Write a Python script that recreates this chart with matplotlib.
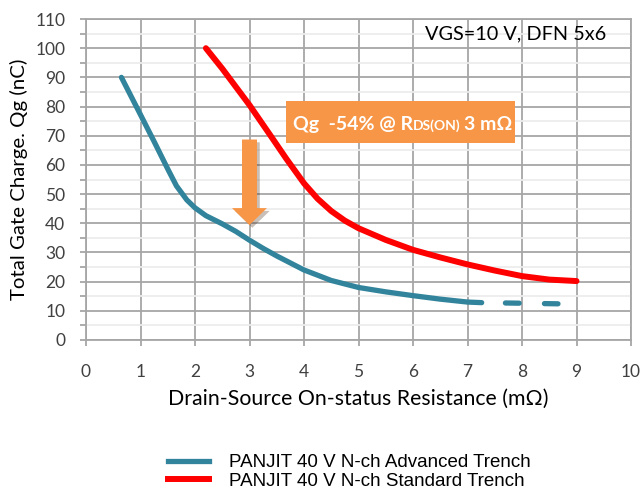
import matplotlib
matplotlib.use("Agg")
import matplotlib.pyplot as plt
from matplotlib.patches import FancyArrow, Rectangle
import matplotlib.patheffects as pe
from matplotlib.lines import Line2D
from matplotlib.ticker import MultipleLocator

plt.rcParams["lines.scale_dashes"] = False

# ---- data ----
adv_x = [0.65, 1.0, 1.25, 1.5, 1.66, 1.85, 2.0, 2.2, 2.5, 2.75, 3.0, 3.25, 3.5,
         4.0, 4.5, 5.0, 5.5, 6.0, 6.5, 7.0, 7.26]
adv_y = [90, 77.2, 68, 58.6, 52.8, 48.0, 45.3, 42.6, 39.8, 37.2, 34.2, 31.4, 28.8,
         24.0, 20.4, 18.0, 16.5, 15.2, 14.0, 13.0, 12.8]
adv_ext_x = [7.26, 8.0, 8.66]
adv_ext_y = [12.8, 12.6, 12.4]
std_x = [2.2, 2.5, 3.0, 3.38, 3.68, 4.0, 4.25, 4.5, 4.75, 5.0, 5.5, 6.0, 6.5, 7.0,
         7.5, 8.0, 8.5, 9.0]
std_y = [100, 93.0, 80.5, 70.2, 62.0, 53.7, 48.4, 44.2, 40.9, 38.3, 34.3, 30.9,
         28.3, 25.9, 23.8, 21.9, 20.7, 20.2]

x_ticks = list(range(0, 11))
y_ticks = list(range(0, 111, 10))

BLUE = "#31849B"
RED = "#FF0000"
ORANGE = "#F79646"
GRID = "#A6A6A6"
MINOR = "#EDEDED"
TEXTC = "#404040"

fig = plt.figure(figsize=(6.42, 4.90), dpi=100)
ax = fig.add_axes([86/642, 1-340/490, (631-86)/642, (340-19)/490])

ax.set_xlim(0, 10)
ax.set_ylim(0, 110)
ax.set_xticks(x_ticks)
ax.set_yticks(y_ticks)
ax.yaxis.set_minor_locator(MultipleLocator(5))
ax.grid(which="major", color=GRID, linewidth=1.3, zorder=0)
ax.grid(which="minor", axis="y", color=MINOR, linewidth=1.3, zorder=0)
for s in ax.spines.values():
    s.set_color(GRID)
    s.set_linewidth(1.3)
ax.tick_params(which="both", color=GRID, width=1.3, length=4, labelcolor=TEXTC,
               labelsize=12.5)
ax.tick_params(axis="x", which="both", pad=13)
ax.tick_params(axis="y", which="both", pad=11)
ax.tick_params(axis="x", which="minor", length=0)
for lab in ax.get_xticklabels() + ax.get_yticklabels():
    lab.set_family("Lato")

ax.set_xlabel("Drain-Source On-status Resistance (m\u03a9)", fontsize=15.3,
              family="Lato", color="black", labelpad=7)
ax.set_ylabel("Total Gate Charge. Qg (nC)", fontsize=14.7, family="Lato",
              color="black", labelpad=5)

ax.plot(adv_x, adv_y, color=BLUE, lw=3.8, solid_capstyle="round",
        solid_joinstyle="round", zorder=3)
ax.plot(adv_ext_x, adv_ext_y, color=BLUE, lw=3.8, dash_capstyle="round",
        linestyle=(11.0, (9.9, 18.2)), zorder=3)
ax.plot(std_x, std_y, color=RED, lw=4.3, solid_capstyle="round",
        solid_joinstyle="round", zorder=3)

ax.text(0.788, 0.954, "VGS=10 V, DFN 5x6", transform=ax.transAxes, ha="center",
        va="center", fontsize=14.3, family="Lato", color="black", zorder=5)

# annotation box
ax.add_patch(Rectangle((3.67, 67.5), 4.2, 14.3, facecolor=ORANGE,
                       edgecolor="none", zorder=4))
by = (340-130)/2.92
ax.text((292.7-86)/54.5, by, "Qg  -54% @ R", fontsize=14, family="Lato",
        weight="bold", color="white", va="baseline", ha="left", zorder=5)
ax.text((412.5-86)/54.5, by, "DS(ON)", fontsize=10, family="Lato",
        weight="bold", color="white", va="baseline", ha="left", zorder=5)
ax.text((463.5-86)/54.5, by, "3 m\u03a9", fontsize=14, family="Lato",
        weight="bold", color="white", va="baseline", ha="left", zorder=5)

arr = FancyArrow(3.0, 68.7, 0, -29.3, width=0.275, head_width=0.64,
                 head_length=5.8, length_includes_head=True,
                 facecolor=ORANGE, edgecolor="none", zorder=4)
arr.set_path_effects([pe.SimplePatchShadow(offset=(2, -2), alpha=0.3), pe.Normal()])
ax.add_patch(arr)

handles = [Line2D([], [], color=BLUE, lw=3.8),
           Line2D([], [], color=RED, lw=4.3)]
leg = fig.legend(handles, ["PANJIT 40 V N-ch Advanced Trench",
                           "PANJIT 40 V N-ch Standard Trench"],
                 loc="center left", bbox_to_anchor=(168/642, 1-472/490),
                 frameon=False, handlelength=2.2, handletextpad=1.05,
                 labelspacing=0.08, borderpad=0, borderaxespad=0,
                 prop={"family": "Liberation Sans", "size": 13.5})

fig.savefig("out.png", dpi=100, facecolor="white")
